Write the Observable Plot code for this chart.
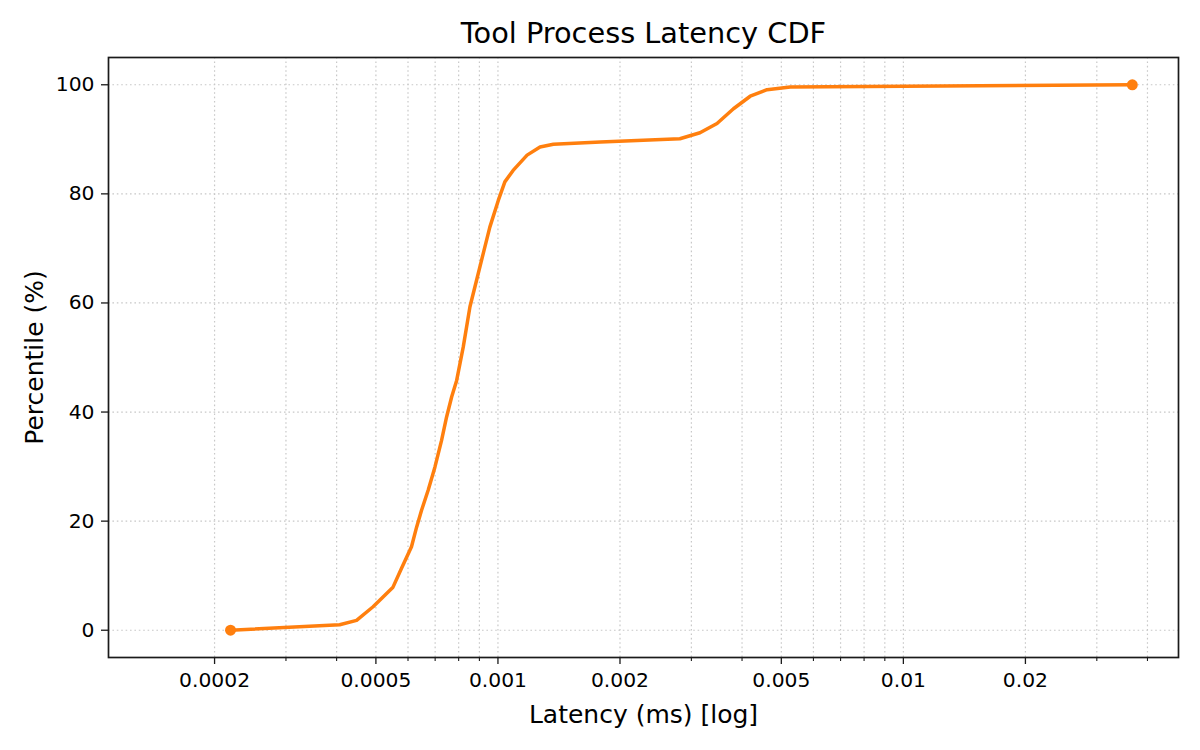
<!DOCTYPE html>
<html>
<head>
<meta charset="utf-8">
<script src="https://cdn.jsdelivr.net/npm/d3@7"></script>
<script src="https://cdn.jsdelivr.net/npm/@observablehq/plot@0.6"></script>
<style>
  html, body { margin: 0; padding: 0; background: #fff; }
  #chart svg { display: block; }
</style>
</head>
<body>
<div id="chart"></div>
<script>
// ---- data ----
const latencyMs = [0.000219, 0.000407, 0.000448, 0.000492, 0.000511, 0.000551, 0.000578,
  0.000612, 0.000630, 0.000648, 0.000673, 0.000699, 0.000726, 0.000747, 0.000769, 0.000791,
  0.000821, 0.000853, 0.000886, 0.000920, 0.000955, 0.001002, 0.00104, 0.00109, 0.00118,
  0.00127, 0.00137, 0.00179, 0.00281, 0.00315, 0.00347, 0.00381, 0.00419, 0.00461, 0.00526, 0.0367];
const percentile = [0, 1, 1.8, 4.3, 5.5, 7.9, 11.3,
  15.3, 18.9, 22.0, 25.7, 29.9, 34.8, 39.1, 42.8, 45.8,
  51.9, 59.3, 64.2, 69.1, 73.9, 78.8, 82.2, 84.3, 87.1,
  88.6, 89.1, 89.5, 90.1, 91.2, 92.9, 95.6, 97.9, 99.1, 99.6, 100];

const xTickLabeled = [0.0002, 0.0005, 0.001, 0.002, 0.005, 0.01, 0.02];
const xTickMinor = [0.0003, 0.0004, 0.0006, 0.0007, 0.0008, 0.0009, 0.003, 0.004, 0.006, 0.007, 0.008, 0.009, 0.03, 0.04];
const yTicks = [0, 20, 40, 60, 80, 100];

const titleText = "Tool Process Latency CDF";
const xLabelText = "Latency (ms) [log]";
const yLabelText = "Percentile (%)";

// ---- build ----
const data = latencyMs.map((x, i) => ({x, y: percentile[i]}));
const endpoints = [data[0], data[data.length - 1]];
const xDomain = [d3.min(latencyMs) * 0.5, d3.max(latencyMs) * 1.3];
const allXTicks = xTickLabeled.concat(xTickMinor);

const orange = "#ff7f0e";
const ink = "#1a1a1a";
const gridStyle = {stroke: "#c8c8c8", strokeWidth: 1.2, strokeDasharray: "1.6,2.8"};

const chart = Plot.plot({
  width: 1200,
  height: 750,
  marginLeft: 108,
  marginRight: 22,
  marginTop: 57,
  marginBottom: 93,
  style: {fontFamily: "DejaVu Sans", background: "#fff", color: ink},
  x: {type: "log", domain: xDomain},
  y: {domain: [-5, 105]},
  marks: [
    Plot.ruleX(allXTicks, {x: d => d, ...gridStyle}),
    Plot.ruleY(yTicks, {y: d => d, ...gridStyle}),
    Plot.line(data, {x: "x", y: "y", stroke: orange, strokeWidth: 3.5, strokeLinejoin: "round", strokeLinecap: "round"}),
    Plot.dot(endpoints, {x: "x", y: "y", r: 5.5, fill: orange, stroke: null}),
    Plot.axisX(xTickLabeled, {tickSize: 7, tickPadding: 8, fontSize: 20.3, stroke: ink, fill: "#000", strokeWidth: 1.3,
      tickFormat: d => String(d), label: null}),
    Plot.axisX(xTickMinor, {tickSize: 4, text: null, stroke: ink, strokeWidth: 1.1, label: null}),
    Plot.axisY(yTicks, {tickSize: 7, tickPadding: 7, fontSize: 20.3, stroke: ink, fill: "#000", strokeWidth: 1.3,
      tickFormat: d => String(d), label: null}),
    Plot.frame({stroke: ink, strokeWidth: 1.7}),
    Plot.text([titleText], {frameAnchor: "top", lineAnchor: "bottom", dy: -15, fontSize: 28.8, fill: "#000", text: d => d}),
    Plot.text([xLabelText], {frameAnchor: "bottom", lineAnchor: "bottom", dy: 65, fontSize: 25, fill: "#000", text: d => d}),
    Plot.text([yLabelText], {frameAnchor: "left", textAnchor: "middle", lineAnchor: "bottom", rotate: -90, dx: -66, fontSize: 25, fill: "#000", text: d => d})
  ]
});
document.getElementById("chart").appendChild(chart);
</script>
</body>
</html>
